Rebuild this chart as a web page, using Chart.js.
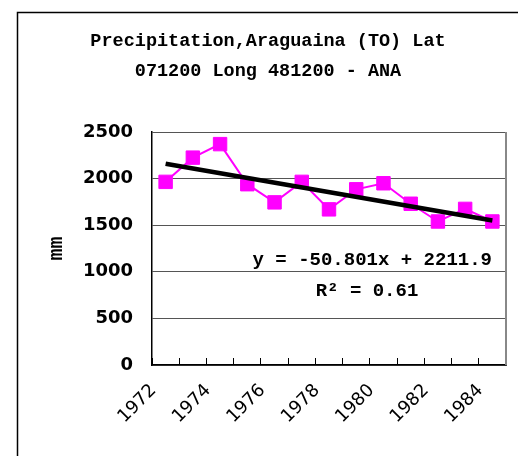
<!DOCTYPE html>
<html>
<head>
<meta charset="utf-8">
<script src="https://cdn.jsdelivr.net/npm/chart.js@4"></script>
<style>
  html, body { margin: 0; padding: 0; background: #fff; overflow: hidden; }
  #wrap { width: 521px; height: 456px; }
  canvas { display: block; }
</style>
</head>
<body>
<div id="wrap"><canvas id="chart" width="521" height="456"></canvas></div>
<script>
// data
const years = ['1972','1973','1974','1975','1976','1977','1978','1979','1980','1981','1982','1983','1984'];
const precip = [1965, 2225, 2370, 1940, 1745, 1965, 1670, 1885, 1950, 1730, 1540, 1675, 1540];
// linear trend, only the two ends
const trend = [2160, null, null, null, null, null, null, null, null, null, null, null, 1550];
const yTicks = [0, 500, 1000, 1500, 2000, 2500];
const titleLines = ['Precipitation,Araguaina (TO) Lat', '071200 Long 481200 - ANA'];
const equation = 'y = -50.801x + 2211.9';
const rSquared = 'R\u00B2 = 0.61';

const MONO = "'Liberation Mono', 'DejaVu Sans Mono', monospace";
const SANS = "'DejaVu Sans', Verdana, sans-serif";

// outer frame (top and left only, the rest is off the picture), plot right border, regression text
const decor = {
  id: 'decor',
  beforeDraw(chart) {
    const ctx = chart.ctx;
    ctx.save();
    ctx.fillStyle = '#fff';
    ctx.fillRect(0, 0, chart.width, chart.height);
    ctx.strokeStyle = '#000';
    ctx.lineWidth = 1.5;
    ctx.beginPath();
    ctx.moveTo(17.5, chart.height);
    ctx.lineTo(17.5, 12.5);
    ctx.lineTo(chart.width - 3, 12.5);
    ctx.stroke();
    ctx.restore();
  },
  afterDraw(chart) {
    const ctx = chart.ctx;
    const a = chart.chartArea;
    ctx.save();
    ctx.strokeStyle = '#888';
    ctx.lineWidth = 2;
    ctx.beginPath();
    ctx.moveTo(a.right, a.top);
    ctx.lineTo(a.right, a.bottom);
    ctx.stroke();
    ctx.fillStyle = '#000';
    ctx.font = 'bold 19px ' + MONO;
    ctx.textBaseline = 'middle';
    ctx.textAlign = 'right';
    ctx.fillText(equation, a.right - 14, 260);
    ctx.textAlign = 'center';
    ctx.fillText(rSquared, 367, 291);
    ctx.restore();
  }
};

new Chart(document.getElementById('chart'), {
  type: 'line',
  data: {
    labels: years,
    datasets: [{
      label: 'Precipitation',
      data: precip,
      borderColor: '#ff00ff',
      backgroundColor: '#ff00ff',
      borderWidth: 2,
      pointStyle: 'rect',
      pointRadius: 9.5,
      pointBorderWidth: 1,
      tension: 0,
      order: 2
    }, {
      label: 'Linear',
      data: trend,
      borderColor: '#000',
      borderWidth: 4.5,
      pointRadius: 0,
      spanGaps: true,
      order: 1
    }]
  },
  options: {
    responsive: false,
    animation: false,
    layout: { padding: { left: 30, right: 15, top: 15, bottom: 0 } },
    plugins: {
      legend: { display: false },
      tooltip: { enabled: false },
      title: {
        display: true,
        text: titleLines,
        color: '#000',
        font: { family: MONO, size: 18.5, weight: 'bold', lineHeight: '30px' },
        padding: { top: 11, bottom: 46 }
      }
    },
    scales: {
      x: {
        offset: true,
        grid: { display: true, drawOnChartArea: false, offset: true, tickLength: -7, color: '#000', lineWidth: 1 },
        border: { color: '#000', width: 1.5 },
        ticks: {
          autoSkip: false,
          maxRotation: 45,
          minRotation: 45,
          padding: 22,
          labelOffset: -12,
          color: '#000',
          font: { family: SANS, size: 18 },
          callback: (v, i) => (i % 2 === 0 ? years[i] : '')
        },
        afterFit: s => { s.height = 91; s.paddingLeft = 0; s.paddingRight = 0; }
      },
      y: {
        min: 0,
        max: 2500,
        afterBuildTicks: s => { s.ticks = yTicks.map(v => ({ value: v })); },
        grid: { color: '#555', lineWidth: 1, drawTicks: false },
        border: { color: '#000', width: 1.5 },
        ticks: {
          padding: 19,
          color: '#000',
          font: { family: SANS, size: 18, weight: 'bold' },
          callback: v => String(v)
        },
        title: {
          display: true,
          text: 'mm',
          color: '#000',
          font: { family: MONO, size: 20, weight: 'bold' },
          padding: { top: 15, bottom: 0 }
        },
        afterFit: s => { s.width = 152 - 30; s.paddingTop = 0; s.paddingBottom = 0; }
      }
    }
  },
  plugins: [decor]
});
</script>
</body>
</html>
